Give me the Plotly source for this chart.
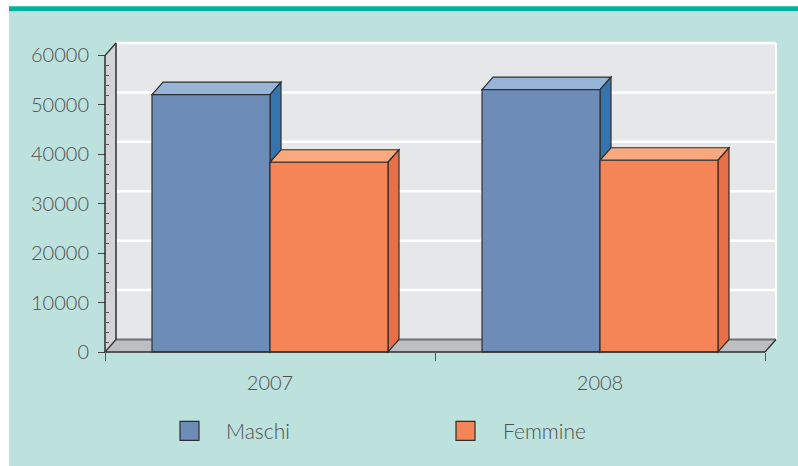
import plotly.graph_objects as go

# ---- data ----
categories = ["2007", "2008"]
maschi = [52100, 53100]
femmine = [38400, 38800]
series_names = ["Maschi", "Femmine"]
y_ticks = [0, 10000, 20000, 30000, 40000, 50000, 60000]
y_ticktext = ["0", "10000", "20000", "30000", "40000", "50000", "60000"]
y_minor = [v for v in range(0, 60001, 2000) if v % 10000 != 0]

# ---- geometry (pixels -> data units) ----
W, H = 798, 466
PX_CAT = 330.0            # px per category
PX_Y = 49.45 / 10000.0    # px per y unit
DX_PX, DY_PX = 11.0, 12.5 # depth offset
PAD_PX = 4.0
DX = DX_PX / PX_CAT
DY = DY_PX / PX_Y
PADX = PAD_PX / PX_CAT
PADY = PAD_PX / PX_Y
YMAX = 60000

x_range = [-0.5 - PADX, 1.5 + DX + PADX]
y_range = [-PADY, YMAX + DY + PADY]
front_left_px, zero_px = 105.0, 352.0
plot_w = (x_range[1] - x_range[0]) * PX_CAT
plot_h = (y_range[1] - y_range[0]) * PX_Y
m_l = front_left_px - PAD_PX
m_b = H - (zero_px + PAD_PX)
m_t = H - m_b - plot_h
m_r = W - m_l - plot_w

BARGAP = 0.285
BW = (1 - BARGAP) / 2

col_front = ["#6e8cb8", "#f58457"]
col_top = ["#97b5d9", "#f8a97e"]
col_side = ["#3674ad", "#e86f46"]
edge = "#2e2e2e"
font_fam = "Lato, 'Noto Sans', sans-serif"
txt_col = "#505050"

fig = go.Figure()
xs = list(range(len(categories)))
for i, (name, vals) in enumerate(zip(series_names, [maschi, femmine])):
    fig.add_trace(go.Bar(
        x=xs, y=vals, name=name, width=BW, offset=(-BW if i == 0 else 0),
        marker=dict(color=col_front[i], line=dict(color=edge, width=1.2)),
        showlegend=False))

shapes = []
def poly(pts, fill, line_col=None, lw=0, layer="below"):
    p = "M " + " L ".join(f"{x},{y}" for x, y in pts) + " Z"
    shapes.append(dict(type="path", path=p, xref="x", yref="y", layer=layer,
                       fillcolor=fill, line=dict(color=line_col or fill, width=lw)))
def seg(x0, y0, x1, y1, color, width, layer="below"):
    shapes.append(dict(type="line", x0=x0, y0=y0, x1=x1, y1=y1, xref="x", yref="y",
                       layer=layer, line=dict(color=color, width=width)))

xl, xr = -0.5, 1.5
# back wall
poly([(xl + DX, DY), (xl + DX, YMAX + DY), (xr + DX, YMAX + DY), (xr + DX, DY)], "#e6e7e8")
for v in y_ticks[1:]:
    seg(xl + DX, v + DY, xr + DX, v + DY, "#ffffff", 2.5)
seg(xr + DX, DY, xr + DX, YMAX + DY, "#ffffff", 2)
# left wall
poly([(xl, 0), (xl, YMAX), (xl + DX, YMAX + DY), (xl + DX, DY)], "#d3d4d6")
# floor
poly([(xl, 0), (xr, 0), (xr + DX, DY), (xl + DX, DY)], "#bdbec2")
seg(xl + DX, DY, xr + DX, DY, "#707174", 2)
seg(xl + DX, DY, xl + DX, YMAX + DY, "#2e2e2e", 1.5)
seg(xl, YMAX, xl + DX, YMAX + DY, "#2e2e2e", 1.2)
seg(xl, 0, xl + DX, DY, "#2e2e2e", 1.2)
seg(xr, 0, xr + DX, DY, "#2e2e2e", 1.2)

# 3D faces of bars
for c in xs:
    for i, vals in enumerate([maschi, femmine]):
        v = vals[c]
        x0 = c + (-BW if i == 0 else 0)
        x1 = x0 + BW
        poly([(x0, v), (x0 + DX, v + DY), (x1 + DX, v + DY), (x1, v)], col_top[i], edge, 1.2)
        poly([(x1, v), (x1 + DX, v + DY), (x1 + DX, DY), (x1, 0)], col_side[i], edge, 1.2)

# front axis lines
seg(xl, 0, xl, YMAX, "#2e2e2e", 1.5, layer="above")
seg(xl, 0, xr, 0, "#2e2e2e", 1.5, layer="above")

# page background panel + top strip (paper coords)
def px_to_paper_x(px):
    return (px - m_l) / plot_w
def px_to_paper_y(py):
    return (H - m_b - py) / plot_h
shapes.insert(0, dict(type="rect", xref="paper", yref="paper", layer="below",
                      x0=px_to_paper_x(9), x1=px_to_paper_x(W + 2),
                      y0=px_to_paper_y(H + 2), y1=px_to_paper_y(11),
                      fillcolor="#bde1dc", line=dict(width=0)))
shapes.insert(1, dict(type="rect", xref="paper", yref="paper", layer="below",
                      x0=px_to_paper_x(9), x1=px_to_paper_x(W + 2),
                      y0=px_to_paper_y(11), y1=px_to_paper_y(6),
                      fillcolor="#00b3a0", line=dict(width=0)))

# legend (manual)
annotations = []
leg_y = 431
for i, (name, sx, tx) in enumerate([(series_names[0], 180, 224), (series_names[1], 456, 501)]):
    shapes.append(dict(type="rect", xref="paper", yref="paper", layer="above",
                       x0=px_to_paper_x(sx), x1=px_to_paper_x(sx + 19),
                       y0=px_to_paper_y(leg_y + 9.5), y1=px_to_paper_y(leg_y - 9.5),
                       fillcolor=col_front[i], line=dict(color=edge, width=1.2)))
    annotations.append(dict(xref="paper", yref="paper", x=px_to_paper_x(tx),
                            y=px_to_paper_y(leg_y), text=name, showarrow=False,
                            xanchor="left", yanchor="middle",
                            font=dict(family=font_fam, size=21, color=txt_col, weight=300)))

fig.update_layout(
    width=W, height=H,
    margin=dict(l=m_l, r=m_r, t=m_t, b=m_b, pad=0),
    paper_bgcolor="#ffffff", plot_bgcolor="rgba(0,0,0,0)",
    barmode="overlay", showlegend=False, hovermode=False,
    shapes=shapes, annotations=annotations,
    xaxis=dict(range=x_range, anchor="free", position=PAD_PX / plot_h,
               tickvals=xs, ticktext=categories, ticks="", showgrid=False,
               zeroline=False, showline=False, ticklabelstandoff=17,
               tickfont=dict(family=font_fam, size=20, color=txt_col, weight=300),
               minor=dict(tickvals=[-0.5, 0.5, 1.5], ticks="outside", ticklen=8,
                          tickcolor="#555555", tickwidth=1.2, showgrid=False)),
    yaxis=dict(range=y_range, anchor="free", position=PAD_PX / plot_w,
               tickvals=y_ticks, ticktext=y_ticktext, ticks="outside", ticklen=7,
               tickcolor="#444444", tickwidth=1.2, showgrid=False, zeroline=False,
               showline=False, ticklabelstandoff=5,
               tickfont=dict(family=font_fam, size=20, color=txt_col, weight=300),
               minor=dict(tickvals=y_minor, ticks="inside", ticklen=3,
                          tickcolor="#555555", tickwidth=1, showgrid=False)),
)

fig.write_html("out.html", config={"displayModeBar": False},
               post_script="document.body.style.margin='0';")
